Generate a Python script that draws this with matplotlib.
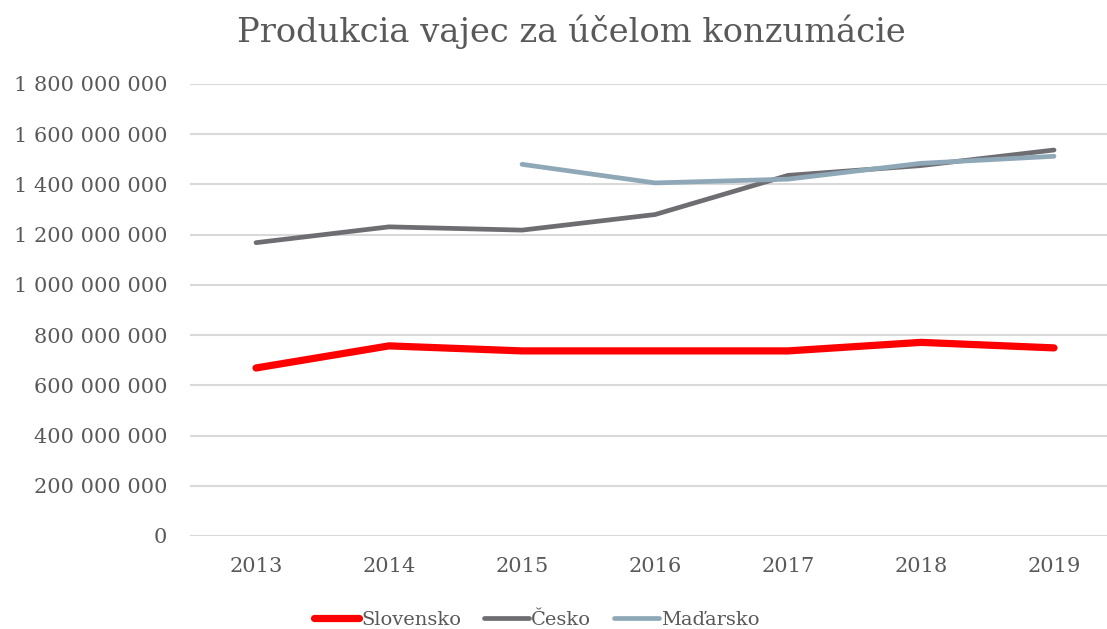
import matplotlib
matplotlib.use("Agg")
import matplotlib.pyplot as plt
from matplotlib.ticker import FuncFormatter, MultipleLocator

years = ["2013", "2014", "2015", "2016", "2017", "2018", "2019"]
slovensko = [669e6, 757e6, 737e6, 737e6, 737e6, 771e6, 749e6]
cesko = [1168e6, 1231e6, 1218e6, 1280e6, 1436e6, 1475e6, 1537e6]
madarsko_years = ["2015", "2016", "2017", "2018", "2019"]
madarsko = [1480e6, 1406e6, 1421e6, 1484e6, 1512e6]

TXT = "#595959"
plt.rcParams["font.family"] = ["DejaVu Serif"]

fig = plt.figure(figsize=(11.07, 6.29), dpi=100)
ax = fig.add_axes([0.1712, 0.1479, 0.841, 0.7186])

x = list(range(len(years)))
xm = [years.index(y) for y in madarsko_years]
ax.plot(x, slovensko, color="#FF0000", lw=5.2, solid_capstyle="round", label="Slovensko", zorder=3)
ax.plot(x, cesko, color="#6E6D72", lw=3.4, solid_capstyle="round", label="Česko", zorder=3)
ax.plot(xm, madarsko, color="#8FA8B8", lw=3.4, solid_capstyle="round", label="Maďarsko", zorder=4)

ax.set_xlim(-0.5, 6.5)
ax.set_ylim(0, 1.8e9)
ax.yaxis.set_major_locator(MultipleLocator(2e8))
ax.yaxis.set_major_formatter(FuncFormatter(lambda v, p: f"{int(v):,}".replace(",", " ")))
ax.set_xticks(x)
ax.set_xticklabels(years)
ax.grid(axis="y", color="#D9D9D9", lw=1.5)
ax.set_axisbelow(True)
for s in ax.spines.values():
    s.set_visible(False)
ax.tick_params(axis="both", length=0, labelsize=15, colors=TXT)
ax.tick_params(axis="y", pad=16)
ax.tick_params(axis="x", pad=15)

fig.text(0.516, 0.950, "Produkcia vajec za účelom konzumácie", ha="center", va="center",
         fontsize=24.3, color=TXT)

leg = fig.legend(loc="center", bbox_to_anchor=(0.485, 0.014), ncol=3, frameon=False,
                 prop={"family": "DejaVu Serif", "size": 14}, handlelength=2.3,
                 handletextpad=0.1, columnspacing=1.2, labelcolor=TXT)

fig.savefig("out.png", dpi=100)
